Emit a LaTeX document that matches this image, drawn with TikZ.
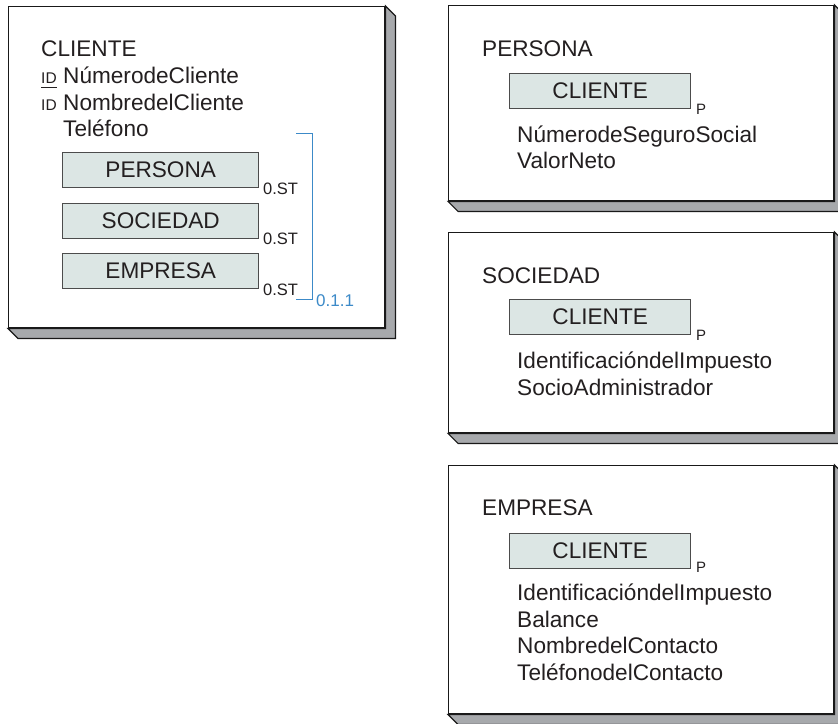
\documentclass[tikz,border=0pt]{standalone}
\usepackage{fontspec}
\setmainfont{Liberation Sans}
\usetikzlibrary{calc}
\definecolor{txt}{HTML}{231F20}
\definecolor{boxfill}{HTML}{DCE6E4}
\definecolor{shade}{HTML}{A7A9AC}
\definecolor{brk}{HTML}{3C8AC8}
\begin{document}
\begin{tikzpicture}[x=1pt,y=-1pt,
  face/.style={draw=black!90, line width=1.4pt, fill=white, anchor=north west, inner sep=0pt},
  sub/.style={draw=black!70, line width=1.4pt, fill=boxfill, anchor=north west, inner sep=0pt,
    minimum width=181pt, minimum height=35pt, font=\fontsize{22.6}{22.6}\selectfont, text=txt},
  subl/.style={sub, minimum width=196pt},
  attr/.style={anchor=base west, inner sep=0pt, font=\fontsize{22.6}{22.6}\selectfont, text=txt},
  idtag/.style={anchor=base west, inner sep=0pt, font=\fontsize{15.5}{15.5}\selectfont, text=txt},
  card/.style={anchor=base west, inner sep=0pt, font=\fontsize{16.5}{16.5}\selectfont, text=txt},
  ptag/.style={anchor=base west, inner sep=0pt, font=\fontsize{15}{15}\selectfont, text=txt},
  shadowst/.style={draw=black!90, line width=1.2pt, fill=shade, line join=miter},
  bracket/.style={draw=brk, line width=1pt},
  brktxt/.style={anchor=base west, inner sep=0pt, font=\fontsize{17}{17}\selectfont, text=brk}]
\useasboundingbox (0,0) rectangle (838,723);
\def\dd{10}
% ---------- faces ----------
\node[face, minimum width=376pt, minimum height=321pt] (cli) at (8,6) {};
\node[face, minimum width=385pt, minimum height=195pt] (per) at (448,5) {};
\node[face, minimum width=385pt, minimum height=200pt] (soc) at (448,232) {};
\node[face, minimum width=385pt, minimum height=248pt] (emp) at (448,465) {};
% ---------- shadows ----------
\foreach \b in {cli,per,soc,emp}{
  \draw[shadowst] (\b.south west) -- ($(\b.south west)+(\dd,\dd)$) -- ($(\b.south east)+(\dd,\dd)$)
    -- ($(\b.north east)+(\dd,\dd)$) -- (\b.north east) -- (\b.south east) -- cycle;
}
% ---------- CLIENTE box ----------
\node[attr] (clit) at (41,56) {CLIENTE};
\node[idtag] (id1) at (41,83) {ID};
\node[idtag] (id2) at (41,110) {ID};
\draw[txt, line width=0.8pt] ($(id1.south west)+(0,4)$) -- ($(id1.south east)+(0,4)$);
\node[attr] (a1) at (63,83) {NúmerodeCliente};
\node[attr] (a2) at (63,110) {NombredelCliente};
\node[attr] (a3) at (63,136) {Teléfono};
\node[subl] (sper) at (62,152) {PERSONA};
\node[subl] (ssoc) at (62,203) {SOCIEDAD};
\node[subl] (semp) at (62,253) {EMPRESA};
\node[card] (c1) at (263,194) {0.ST};
\node[card] (c2) at (263,244) {0.ST};
\node[card] (c3) at (263,295) {0.ST};
\coordinate (bt) at (296,133);
\coordinate (bb) at (296,299);
\draw[bracket] (bt) -- ++(16,0) |- (bb);
\node[brktxt] (b011) at (316,306) {0.1.1};
% ---------- PERSONA box ----------
\node[attr] (pt) at (482,56) {PERSONA};
\node[sub] (pc) at (509,73) {CLIENTE};
\node[ptag] (pp) at (696,114) {P};
\node[attr] (pa1) at (517,142) {NúmerodeSeguroSocial};
\node[attr] (pa2) at (517,168) {ValorNeto};
% ---------- SOCIEDAD box ----------
\node[attr] (st) at (482,283) {SOCIEDAD};
\node[sub] (sc) at (509,299) {CLIENTE};
\node[ptag] (sp) at (696,340) {P};
\node[attr] (sa1) at (517,368) {IdentificacióndelImpuesto};
\node[attr] (sa2) at (517,395) {SocioAdministrador};
% ---------- EMPRESA box ----------
\node[attr] (et) at (482,515) {EMPRESA};
\node[sub] (ec) at (509,533) {CLIENTE};
\node[ptag] (ep) at (696,572) {P};
\node[attr] (ea1) at (517,600) {IdentificacióndelImpuesto};
\node[attr] (ea2) at (517,627) {Balance};
\node[attr] (ea3) at (517,653) {NombredelContacto};
\node[attr] (ea4) at (517,680) {TeléfonodelContacto};
\end{tikzpicture}
\end{document}
